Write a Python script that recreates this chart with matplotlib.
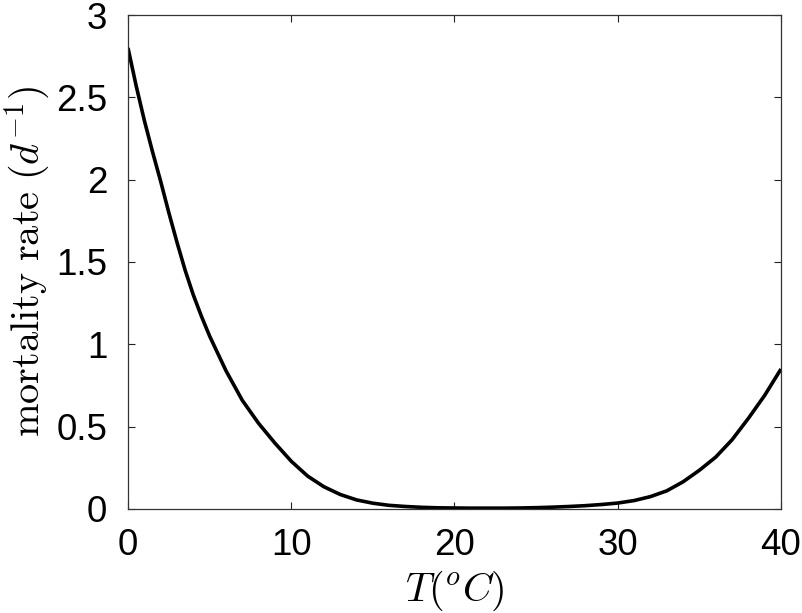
import numpy as np
import matplotlib
matplotlib.use("Agg")
import matplotlib.pyplot as plt

# temperature (deg C) and mortality rate (1/day)
temperature = [0, 0.5, 1, 1.5, 2, 2.5, 3, 3.5, 4, 4.5, 5, 6, 7, 8, 9, 10, 11,
               12, 13, 14, 15, 16, 17, 18, 19, 20, 21, 22, 23, 24, 25, 26, 27,
               28, 29, 30, 31, 32, 33, 34, 35, 36, 37, 38, 39, 40]
mortality = [2.80, 2.57, 2.36, 2.17, 1.99, 1.80, 1.62, 1.45, 1.30, 1.17, 1.05,
             0.84, 0.66, 0.52, 0.40, 0.29, 0.20, 0.135, 0.088, 0.055, 0.035,
             0.022, 0.015, 0.010, 0.007, 0.006, 0.005, 0.005, 0.005, 0.006,
             0.008, 0.011, 0.015, 0.020, 0.027, 0.036, 0.051, 0.075, 0.11,
             0.165, 0.235, 0.315, 0.42, 0.55, 0.69, 0.85]

x_ticks = [0, 10, 20, 30, 40]
y_ticks = [0, 0.5, 1, 1.5, 2, 2.5, 3]
y_tick_labels = ["0", "0.5", "1", "1.5", "2", "2.5", "3"]

plt.rcParams['mathtext.fontset'] = 'cm'
plt.rcParams['font.family'] = ['Liberation Sans', 'DejaVu Sans']

fig = plt.figure(figsize=(8.03, 6.13), dpi=100)
ax = fig.add_axes([0.1594, 0.1697, 0.8132, 0.8058])

ax.plot(temperature, mortality, color="black", lw=2.6, solid_capstyle="butt",
        solid_joinstyle="round")

ax.set_xlim(0, 40)
ax.set_ylim(0, 3)
ax.set_xticks(x_ticks)
ax.set_yticks(y_ticks)
ax.set_yticklabels(y_tick_labels)

ax.tick_params(direction="in", length=5, width=0.8, top=True, right=True,
               labelsize=26.5, colors="#222222", labelcolor="black")
ax.tick_params(axis="x", pad=14)
ax.tick_params(axis="y", pad=15)
for side in ax.spines.values():
    side.set_linewidth(0.9)
    side.set_color("#333333")

ax.set_xlabel(r"$T(^oC)$", fontsize=29)
ax.set_ylabel(r"$\mathrm{mortality\ rate}\ (d^{-1})$", fontsize=29)
ax.xaxis.set_label_coords(0.5, -0.12)
ax.yaxis.set_label_coords(-0.116, 0.5)

fig.savefig("out.png", dpi=100)
